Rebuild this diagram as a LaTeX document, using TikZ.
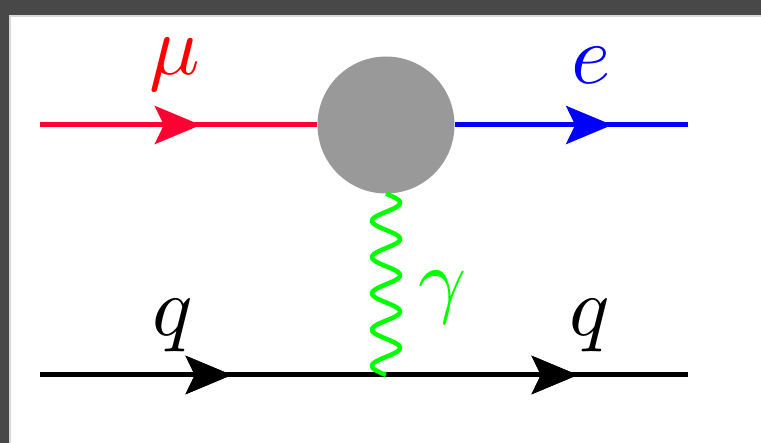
\documentclass[tikz,border=0pt]{standalone}
\usetikzlibrary{arrows.meta,decorations.markings,calc}
\definecolor{murred}{RGB}{255,0,51}
\definecolor{frame}{RGB}{72,72,72}
\definecolor{blobgray}{RGB}{153,153,153}
\definecolor{phgreen}{RGB}{0,255,0}
\tikzset{
  fermion/.style={line width=5pt},
  photon/.style={phgreen,line width=4.5pt,line join=round},
  arrowat/.style={postaction={decorate},decoration={markings,
     mark=at position #1 with {\arrow{Stealth[length=46pt,width=38pt,inset=9pt]}}}},
  lbl/.style={inner sep=0pt,anchor=center,scale=8.4},
}
\begin{document}
\begin{tikzpicture}[x=1pt,y=-1pt]
\useasboundingbox (0,0) rectangle (761,443);
% frame
\fill[white] (0,0) rectangle (761,443);
\fill[frame] (0,0) rectangle (761,15);
\fill[frame] (0,0) rectangle (9,443);
\fill[black!15] (9,15) rectangle (761,17);
\fill[black!15] (9,15) rectangle (11,443);
% nodes
\coordinate (m1) at (40,125);
\coordinate (e2) at (688,125);
\coordinate (q1) at (40,375);
\coordinate (q2) at (688,375);
\coordinate (v) at (386,375);
\node[circle,fill=blobgray,minimum size=137pt,inner sep=0pt] (blob) at (386,125) {};
% lines
\draw[fermion,murred,arrowat=0.58] (m1) -- (blob.west);
\draw[fermion,blue,arrowat=0.675] (blob.east) -- (e2);
\draw[fermion,black,arrowat=0.296,arrowat=0.83] (q1) -- (q2);
% photon: five full waves from the blob to the vertex
\draw[photon] let \p1=(blob.south), \p2=(v) in
  plot[variable=\t,domain=0:1,samples=181,smooth]
  ({\x1+14pt*sin(\t*1800)},{\y1+\t*(\y2-\y1)});
% labels
\node[lbl,text=red] (lmu) at (175,65) {$\mu$};
\node[lbl,text=blue] (le) at (591,65) {$e$};
\node[lbl,text=phgreen] (lg) at (443,298) {$\gamma$};
\node[lbl] (lq1) at (173,326) {$q$};
\node[lbl] (lq2) at (590,326) {$q$};
\end{tikzpicture}
\end{document}
